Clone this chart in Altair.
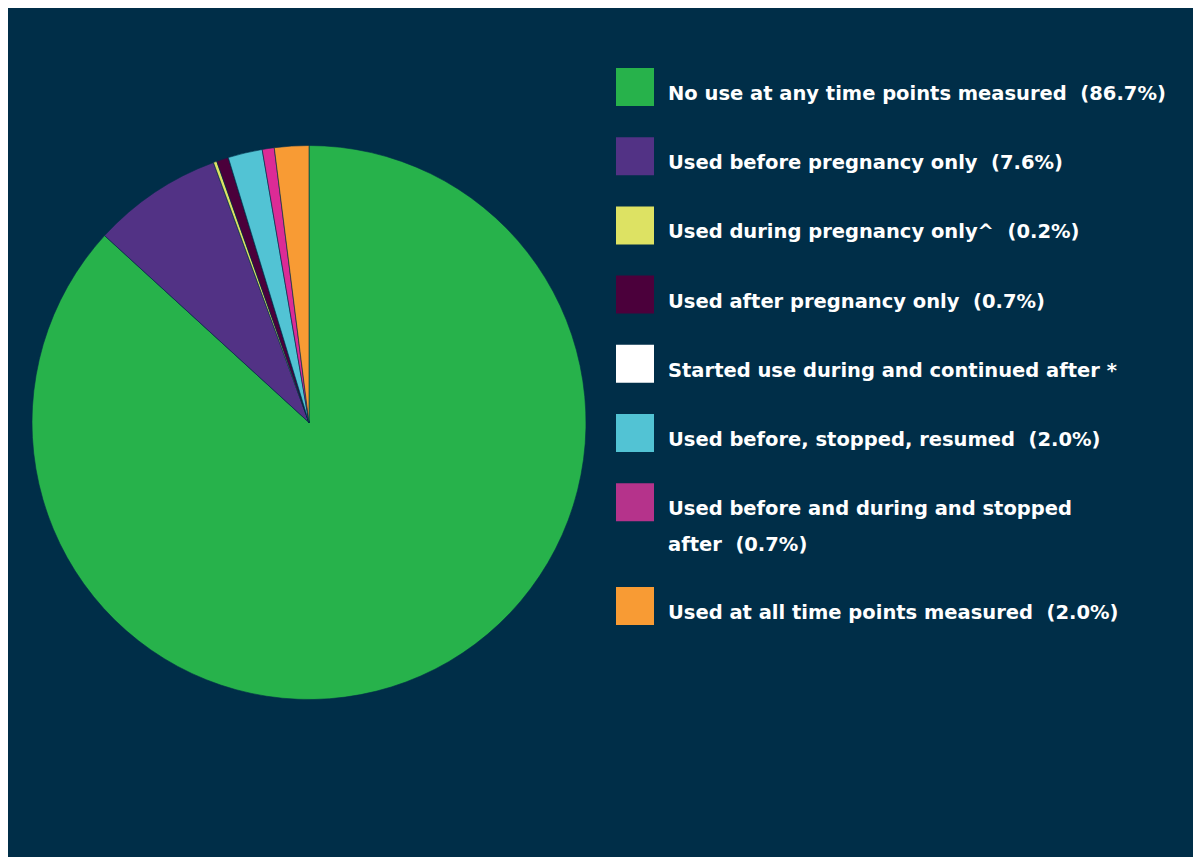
import altair as alt
import pandas as pd

categories = [
    "No use at any time points measured",
    "Used before pregnancy only",
    "Used during pregnancy only^",
    "Used after pregnancy only",
    "Started use during and continued after",
    "Used before, stopped, resumed",
    "Used before and during and stopped",
    "Used at all time points measured",
]
legend_labels = [
    ["No use at any time points measured \u00a0(86.7%)"],
    ["Used before pregnancy only \u00a0(7.6%)"],
    ["Used during pregnancy only^ \u00a0(0.2%)"],
    ["Used after pregnancy only \u00a0(0.7%)"],
    ["Started use during and continued after *"],
    ["Used before, stopped, resumed \u00a0(2.0%)"],
    ["Used before and during and stopped", "after \u00a0(0.7%)"],
    ["Used at all time points measured \u00a0(2.0%)"],
]
values = [86.7, 7.6, 0.2, 0.7, 0.0, 2.0, 0.7, 2.0]
pie_colors = ["#27b24b", "#523285", "#dde263", "#4b003b", "#ffffff", "#52c3d4", "#dc2b96", "#f89b34"]
legend_colors = ["#27b24b", "#523285", "#dde263", "#4b003b", "#ffffff", "#52c3d4", "#b5338b", "#f89b34"]

BG = "#002e48"

# slot index: each row, plus half a slot for every extra line above
slots = []
extra = 0
for i, lines in enumerate(legend_labels):
    slots.append(i + 0.5 * extra)
    extra += len(lines) - 1

df = pd.DataFrame({
    "category": categories,
    "value": values,
    "order": list(range(len(categories))),
    "label": ["\n".join(l) for l in legend_labels],
    "slot": slots,
    "lcolor": legend_colors,
})

pie = alt.Chart(df).mark_arc(radius=277, stroke=BG, strokeWidth=0.6).encode(
    theta=alt.Theta("value:Q", stack=True),
    order=alt.Order("order:Q"),
    color=alt.Color("category:N", scale=alt.Scale(domain=categories, range=pie_colors), legend=None),
    x=alt.value(301),
    y=alt.value(414.5),
)

yscale = alt.Scale(domain=[0, 7.5], range=[79, 598])

squares = alt.Chart(df).mark_square(size=38 * 38, opacity=1, filled=True).encode(
    x=alt.value(627),
    y=alt.Y("slot:Q", scale=yscale, axis=None),
    color=alt.Color("lcolor:N", scale=None),
)

texts = alt.Chart(df).mark_text(
    align="left", baseline="alphabetic", dy=13, lineBreak="\n", lineHeight=36,
    font="DejaVu Sans", fontSize=19.5, fontWeight="bold", color="#ffffff",
).encode(
    x=alt.value(660),
    y=alt.Y("slot:Q", scale=yscale, axis=None),
    text="label:N",
)

chart = alt.layer(pie, squares, texts).resolve_scale(color="independent").properties(
    width=1185, height=849, background=BG, padding=0, autosize=alt.AutoSizeParams(type="none"),
).configure_view(stroke=None)

chart.save("out.html", embed_options={"renderer": "svg", "actions": False})
